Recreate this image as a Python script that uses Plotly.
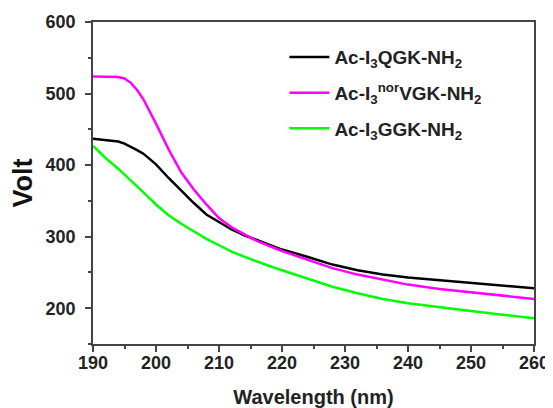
import plotly.graph_objects as go

wavelength = [190, 192, 194, 195, 196, 197, 198, 200, 202, 204, 206, 208, 210, 212, 214, 216, 218,
              220, 224, 228, 232, 236, 240, 245, 250, 255, 260]
qgk = [437, 435, 433, 430, 426, 421, 416, 401, 382, 364, 347, 331, 320, 310, 302, 295, 289,
       282, 272, 261, 253, 247, 243, 239, 235, 232, 228]
norvgk = [524, 524, 523, 521, 515, 505, 492, 458, 422, 390, 366, 345, 326, 313, 303, 294, 287,
          280, 268, 256, 247, 240, 233, 227, 222, 218, 213]
ggk = [427, 410, 395, 387, 379, 370, 362, 345, 330, 318, 307, 297, 288, 279, 272, 265, 259,
       253, 242, 230, 221, 213, 207, 201, 196, 191, 186]

names = ["Ac-I<sub>3</sub>QGK-NH<sub>2</sub>",
         "Ac-I<sub>3</sub><sup>nor</sup>VGK-NH<sub>2</sub>",
         "Ac-I<sub>3</sub>GGK-NH<sub>2</sub>"]
colors = ["#000000", "#FF00FF", "#00FF00"]
x_ticks = [190, 200, 210, 220, 230, 240, 250, 260]
y_ticks = [200, 300, 400, 500, 600]

fig = go.Figure()
for i, (ys, nm, c) in enumerate(zip([qgk, norvgk, ggk], names, colors)):
    fig.add_trace(go.Scatter(x=wavelength, y=ys, mode="lines", name=nm, legendgroup=f"g{i}",
                             line=dict(color=c, width=2.5)))

font_fam = "Liberation Sans, Arial, sans-serif"
axis_common = dict(
    showline=True, linecolor="#444", linewidth=1.5, mirror=True,
    ticks="outside", ticklen=6, tickwidth=1.5, tickcolor="#444",
    showgrid=False, zeroline=False, automargin=False,
    tickfont=dict(family=font_fam, size=18, color="#222", weight="bold"),
)

# The page body has an 8px default margin, so the figure is sized to fit inside the window.
fig.update_layout(
    width=545, height=400,
    margin=dict(l=85, r=19, t=14, b=64),
    paper_bgcolor="white", plot_bgcolor="white",
    xaxis=dict(range=[190, 260], tickvals=x_ticks,
               minor=dict(ticks="outside", ticklen=3, tickwidth=1.5, tickcolor="#444", dtick=5, tick0=190),
               title=dict(text="Wavelength (nm)", standoff=18,
                          font=dict(family=font_fam, size=20, color="#222", weight="bold")),
               ticklabelstandoff=-4,
               **axis_common),
    yaxis=dict(range=[150, 600], tickvals=y_ticks,
               minor=dict(ticks="outside", ticklen=3, tickwidth=1.5, tickcolor="#444", dtick=50, tick0=150),
               title=dict(text="Volt", standoff=6,
                          font=dict(family=font_fam, size=27, color="#111", weight="bold")),
               ticklabelstandoff=6,
               **axis_common),
    legend=dict(x=0.434, y=0.95, xanchor="left", yanchor="top",
                bgcolor="rgba(0,0,0,0)", borderwidth=0,
                font=dict(family=font_fam, size=19, color="#222", weight="bold"),
                itemwidth=40, traceorder="grouped", tracegroupgap=8),
    showlegend=True,
)

fig.write_html("out.html")
